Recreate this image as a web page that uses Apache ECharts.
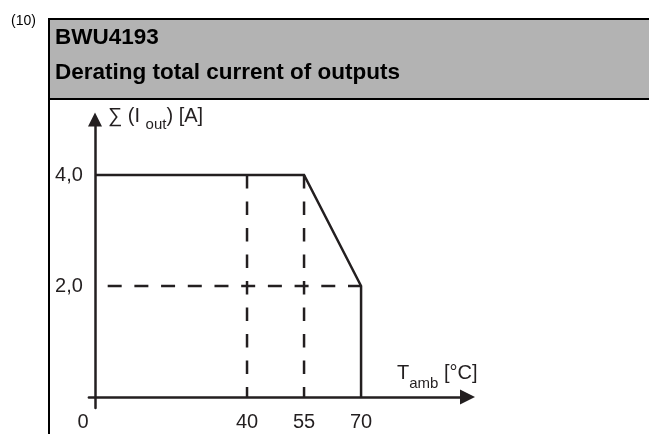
<!DOCTYPE html>
<html>
<head>
<meta charset="utf-8">
<script src="https://cdn.jsdelivr.net/npm/echarts@6/dist/echarts.min.js"></script>
<style>
html,body{margin:0;padding:0;background:#fff;}
#chart{width:649px;height:434px;}
</style>
</head>
<body>
<div id="chart"></div>
<script>
// ---- data ----
const figureNumber = '(10)';
const titleLine1 = 'BWU4193';
const titleLine2 = 'Derating total current of outputs';
const xTickValues = [0, 40, 55, 70];
const xTickLabels = ['0', '40', '55', '70'];
const yTickValues = [2, 4];
const yTickLabels = ['2,0', '4,0'];
const deratingCurve = [[0, 4], [55, 4], [70, 2], [70, 0]];
const guide40 = [[40, 4], [40, 0]];
const guide55 = [[55, 4], [55, 0]];
const guide2A = [[0, 2], [70, 2]];

const INK = '#231f20';
const FONT = 'Liberation Sans, Arial, Helvetica, sans-serif';

const chart = echarts.init(document.getElementById('chart'), null, {renderer: 'canvas'});

const arrowPath = 'path://M0,0L10,20L-10,20Z';

const option = {
  backgroundColor: '#ffffff',
  animation: false,
  title: [
    {text: figureNumber, left: 11, top: 14, padding: 0,
     textStyle: {fontFamily: FONT, fontSize: 14, fontWeight: 'normal', color: '#000'}},
    {text: titleLine1, left: 55, top: 26.5, padding: 0,
     textStyle: {fontFamily: FONT, fontSize: 22.5, fontWeight: 'bold', color: '#000'}},
    {text: titleLine2, left: 55, top: 61.5, padding: 0,
     textStyle: {fontFamily: FONT, fontSize: 22.5, fontWeight: 'bold', color: '#000'}}
  ],
  graphic: [
    {type: 'rect', z: -10, shape: {x: 49, y: 19, width: 700, height: 80},
     style: {fill: '#b3b3b3', stroke: '#000', lineWidth: 2}},
    {type: 'line', z: -10, shape: {x1: 49, y1: 99, x2: 49, y2: 440},
     style: {stroke: '#000', lineWidth: 2}},
    {type: 'text', left: 108, top: 106,
     style: {
       text: '{m|∑ (I }{s|out}{m|) [A]}',
       fill: INK,
       rich: {
         m: {fontFamily: FONT, fontSize: 20, fill: INK, lineHeight: 26, verticalAlign: 'top'},
         s: {fontFamily: FONT, fontSize: 15, fill: INK, lineHeight: 26, verticalAlign: 'bottom'}
       }
     }},
    {type: 'text', left: 397, top: 363,
     style: {
       text: '{m|T}{s|amb}{m| [°C]}',
       fill: INK,
       rich: {
         m: {fontFamily: FONT, fontSize: 20, fill: INK, lineHeight: 28, verticalAlign: 'top'},
         s: {fontFamily: FONT, fontSize: 15, fill: INK, lineHeight: 28, verticalAlign: 'bottom'}
       }
     }}
  ],
  grid: {left: 88.9, right: 181.5, top: 119.5, bottom: 25.9, containLabel: false, outerBoundsMode: 'none'},
  xAxis: {
    type: 'value', min: -1.6, max: 98,
    splitLine: {show: false},
    axisTick: {show: false},
    axisLine: {show: true, onZero: true,
      symbol: ['none', arrowPath], symbolSize: [15, 29],
      lineStyle: {color: INK, width: 2.5}},
    axisLabel: {
      customValues: xTickValues,
      margin: 4,
      color: INK, fontFamily: FONT, fontSize: 20,
      formatter: function (v) {
        const i = xTickValues.indexOf(v);
        const t = i >= 0 ? xTickLabels[i] : '';
        return v === 0 ? '{z|' + t + '}' : t;
      },
      rich: {z: {fontFamily: FONT, fontSize: 20, color: INK, padding: [0, 24, 0, 0]}}
    }
  },
  yAxis: {
    type: 'value', min: -0.2, max: 5,
    splitLine: {show: false},
    axisTick: {show: false},
    axisLine: {show: true, onZero: true,
      symbol: ['none', arrowPath], symbolSize: [14, 26],
      lineStyle: {color: INK, width: 2.5}},
    axisLabel: {
      customValues: yTickValues,
      margin: 6,
      color: INK, fontFamily: FONT, fontSize: 20,
      formatter: function (v) {
        const i = yTickValues.indexOf(v);
        return i >= 0 ? yTickLabels[i] : '';
      }
    }
  },
  series: [
    {type: 'line', data: guide40, symbol: 'none', silent: true,
     lineStyle: {color: INK, width: 2.5, type: [13.5, 13], cap: 'butt'}},
    {type: 'line', data: guide55, symbol: 'none', silent: true,
     lineStyle: {color: INK, width: 2.5, type: [13.5, 13], cap: 'butt'}},
    {type: 'line', data: guide2A, symbol: 'none', silent: true,
     lineStyle: {color: INK, width: 2.5, type: [14, 12.7], dashOffset: 14, cap: 'butt'}},
    {type: 'line', data: deratingCurve, symbol: 'none', silent: true, z: 5,
     lineStyle: {color: INK, width: 2.5, join: 'miter'}}
  ]
};
chart.setOption(option);
</script>
</body>
</html>
